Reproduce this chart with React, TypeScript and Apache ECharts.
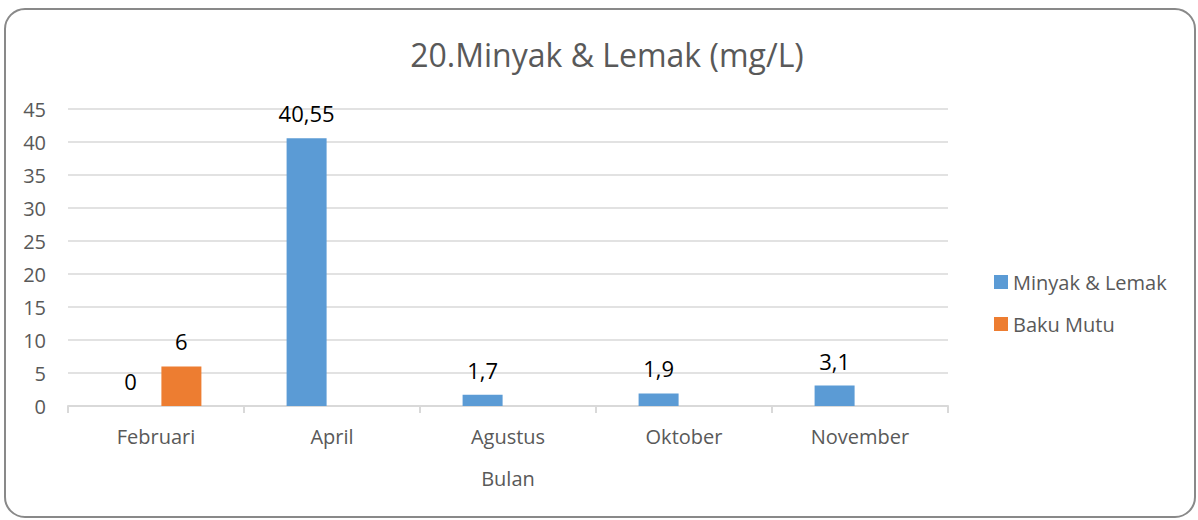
import React, { useEffect, useRef } from "react";
import * as echarts from "echarts";

const categories = ["Februari", "April", "Agustus", "Oktober", "November"];
const minyakLemak = [0, 40.55, 1.7, 1.9, 3.1];
const bakuMutu = [6, null, null, null, null];
const seriesNames = ["Minyak & Lemak", "Baku Mutu"];

const FONT = "'Open Sans', sans-serif";

export default function App() {
  const ref = useRef<HTMLDivElement>(null);
  useEffect(() => {
    if (!ref.current) return;
    const chart = echarts.init(ref.current, null, { renderer: "svg" });
    const fmt = (p: any) => String(p.value).replace(".", ",");
    chart.setOption({
      animation: false,
      backgroundColor: "#ffffff",
      textStyle: { fontFamily: FONT },
      title: {
        text: "20.Minyak & Lemak (mg/L)",
        left: 602,
        textAlign: "center",
        top: 33,
        textStyle: { fontFamily: FONT, fontSize: 32, fontWeight: "normal", color: "#595959" },
      },
      graphic: [
        {
          type: "rect",
          shape: { x: 5, y: 9, width: 1190, height: 508, r: 20 },
          style: { fill: "none", stroke: "#898989", lineWidth: 2 },
          silent: true,
        },
      ],
      legend: {
        orient: "vertical",
        left: 989,
        top: 267,
        itemWidth: 14,
        itemHeight: 14,
        itemGap: 22,
        icon: "rect",
        textStyle: { fontFamily: FONT, fontSize: 20, color: "#595959" },
        data: seriesNames,
      },
      grid: { left: 68, right: 250, top: 109, bottom: 114, containLabel: false },
      xAxis: {
        type: "category",
        data: categories,
        name: "Bulan",
        nameLocation: "middle",
        nameGap: 62,
        nameTextStyle: { fontFamily: FONT, fontSize: 20, color: "#595959" },
        axisLine: { lineStyle: { color: "#d9d9d9", width: 2 } },
        axisTick: { show: true, length: 7, lineStyle: { color: "#d9d9d9", width: 2 } },
        axisLabel: { fontFamily: FONT, fontSize: 20, color: "#595959", margin: 20 },
      },
      yAxis: {
        type: "value",
        min: 0,
        max: 45,
        interval: 5,
        axisLine: { show: false },
        axisTick: { show: false },
        splitLine: { lineStyle: { color: "#d9d9d9", width: 1.5 } },
        axisLabel: { fontFamily: FONT, fontSize: 20, color: "#595959", margin: 22 },
      },
      series: [
        {
          name: seriesNames[0],
          type: "bar",
          data: minyakLemak,
          barWidth: 40,
          barGap: "27%",
          itemStyle: { color: "#5B9BD5" },
          label: {
            show: true,
            position: "top",
            distance: 14,
            formatter: fmt,
            fontFamily: FONT,
            fontSize: 22,
            color: "#000000",
          },
        },
        {
          name: seriesNames[1],
          type: "bar",
          data: bakuMutu,
          barWidth: 40,
          itemStyle: { color: "#ED7D31" },
          label: {
            show: true,
            position: "top",
            distance: 14,
            formatter: fmt,
            fontFamily: FONT,
            fontSize: 22,
            color: "#000000",
          },
        },
      ],
    });
    return () => chart.dispose();
  }, []);
  return <div ref={ref} style={{ width: 1198, height: 520, position: "absolute", left: 0, top: 0 }} />;
}
